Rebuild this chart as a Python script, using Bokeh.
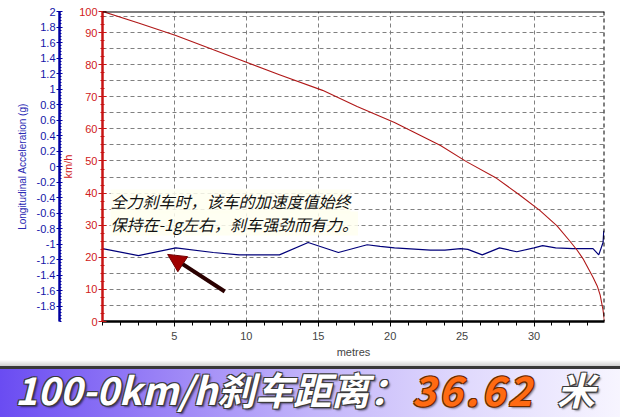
from bokeh.plotting import figure
from bokeh.models import (Range1d, LinearAxis, FixedTicker, CustomJSTickFormatter,
                          Label, Arrow, NormalHead, Div, Span)
from bokeh.layouts import column
from bokeh.embed import file_html
from bokeh.resources import INLINE

# ---------------- data ----------------
dist_speed = [0, 2.5, 5.1, 9.5, 12.3, 15.3, 17.7, 20.3, 23.5, 25.3, 27.4, 29.0, 30.4,
              31.6, 32.5, 33.0, 33.4, 34.1, 34.4, 34.6, 34.8, 34.9]
speed_kmh = [96.6, 93.0, 89.1, 81.6, 76.9, 72.0, 67.0, 62.0, 54.8, 49.8, 44.6, 39.4, 34.6,
             29.8, 25.0, 22.2, 19.6, 13.8, 11.0, 8.2, 3.5, 0.0]

dist_acc = [0, 2.5, 5.1, 7.7, 9.5, 12.3, 14.3, 16.4, 18.4, 19.3, 20.3, 22.8, 23.8, 24.9, 25.4,
            26.4, 27.6, 28.8, 30.0, 30.6, 31.5, 32.7, 34.1, 34.5, 34.8, 34.85]
acc_g = [-1.06, -1.15, -1.05, -1.11, -1.14, -1.14, -0.98, -1.11, -1.01, -1.03, -1.05, -1.08, -1.08,
         -1.06, -1.07, -1.14, -1.05, -1.10, -1.05, -1.02, -1.05, -1.06, -1.06, -1.14, -0.98, -0.83]

x_ticks = [5, 10, 15, 20, 25, 30]
speed_top = 96.57
speed_tick_pos = [0, 10, 20, 30, 40, 50, 60, 70, 80, 90, speed_top]
speed_tick_labels = ["0", "10", "20", "30", "40", "50", "60", "70", "80", "90", "100"]
acc_ticks = [-1.8, -1.6, -1.4, -1.2, -1.0, -0.8, -0.6, -0.4, -0.2, 0.0,
             0.2, 0.4, 0.6, 0.8, 1.0, 1.2, 1.4, 1.6, 1.8, 2.0]

note_line1 = "全力刹车时，该车的加速度值始终"
note_line2 = "保持在-1g左右，刹车强劲而有力。"
banner_a = "100-0km/h刹车距离："
banner_b = "36.62"
banner_c = "米"

FONT = "Liberation Sans"
CJK = "Noto Sans CJK SC"
RED = "#c81414"
BLUE = "#1414a8"

# ---------------- main chart ----------------
p = figure(width=620, height=360, x_range=Range1d(0, 34.9), y_range=Range1d(0, speed_top),
           output_backend="svg", toolbar_location=None,
           min_border_left=102, min_border_right=16, min_border_top=11, min_border_bottom=39,
           outline_line_color=None, background_fill_color="white",
           border_fill_color="white")
p.extra_y_ranges = {"acc": Range1d(-2, 2)}

# grid
p.xgrid.ticker = FixedTicker(ticks=x_ticks)
p.ygrid.ticker = FixedTicker(ticks=[5 * k for k in range(1, 20)])
for g in (p.xgrid[0], p.ygrid[0]):
    g.grid_line_color = "#808080"
    g.grid_line_dash = "4 3"
    g.grid_line_width = 1

# frame edges: solid top, dashed right
p.add_layout(Span(location=speed_top, dimension="width", line_color="black", line_width=2))
p.add_layout(Span(location=34.9, dimension="height", line_color="black", line_width=2,
                  line_dash="4 3"))

# x axis
xa = p.xaxis[0]
xa.ticker = FixedTicker(ticks=x_ticks, minor_ticks=[1.25 * k for k in range(28)])
xa.axis_label = "metres"
xa.axis_line_color = "black"
xa.axis_line_width = 2.5
xa.major_tick_line_color = "black"
xa.minor_tick_line_color = "black"
xa.major_tick_in = 0
xa.major_tick_out = 5
xa.minor_tick_in = 0
xa.minor_tick_out = 4
xa.major_label_standoff = 5
xa.axis_label_standoff = 3
xa.major_label_text_font = FONT
xa.major_label_text_font_size = "11px"
xa.axis_label_text_font = FONT
xa.axis_label_text_font_size = "11px"
xa.axis_label_text_font_style = "normal"

# red speed axis (inner left)
ra = p.yaxis[0]
ra.ticker = FixedTicker(ticks=speed_tick_pos, minor_ticks=[2.5 * k for k in range(39)])
ra.major_label_overrides = dict(zip(speed_tick_pos, speed_tick_labels))
ra.axis_label = "km/h"
ra.axis_line_color = RED
ra.axis_line_width = 2.5
ra.major_tick_line_color = RED
ra.minor_tick_line_color = RED
ra.major_tick_in = 4
ra.major_tick_out = 4
ra.minor_tick_in = 2
ra.minor_tick_out = 2
ra.major_label_standoff = 1
ra.axis_label_standoff = 2
ra.major_label_text_color = "#d02020"
ra.major_label_text_font = FONT
ra.major_label_text_font_size = "11px"
ra.axis_label_text_color = "#d02020"
ra.axis_label_text_font = FONT
ra.axis_label_text_font_size = "11px"
ra.axis_label_text_font_style = "normal"

# blue acceleration axis (outer left)
ba = LinearAxis(y_range_name="acc", axis_label="Longitudinal Acceleration (g)")
ba.ticker = FixedTicker(ticks=acc_ticks, minor_ticks=[-2 + 0.04 * k for k in range(101)])
ba.formatter = CustomJSTickFormatter(code="return (Math.round(tick*10)/10).toString();")
ba.axis_line_color = "#0000a0"
ba.axis_line_width = 2.5
ba.major_tick_line_color = "#0000a0"
ba.minor_tick_line_color = "#0000a0"
ba.major_tick_in = 3
ba.major_tick_out = 3
ba.minor_tick_in = 2
ba.minor_tick_out = 0
ba.major_label_standoff = 1
ba.axis_label_standoff = 6
ba.major_label_text_color = BLUE
ba.major_label_text_font = FONT
ba.major_label_text_font_size = "11px"
ba.axis_label_text_color = "#2a2ab4"
ba.axis_label_text_font = FONT
ba.axis_label_text_font_size = "10px"
ba.axis_label_text_font_style = "normal"
p.add_layout(ba, "left")

# series
p.line(dist_acc, acc_g, y_range_name="acc", line_color="#00007a", line_width=1.2)
p.line(dist_speed, speed_kmh, line_color="#b01818", line_width=1.1, line_join="round")

# annotation text with pale glow
for txt, yy in ((note_line1, 37.4), (note_line2, 30.5)):
    p.add_layout(Label(x=0.56, y=yy, text=txt, text_font=CJK, text_font_style="italic",
                       text_font_size="16px", text_color="#111111", text_baseline="middle",
                       text_align="left", background_fill_color="#fffff0",
                       background_fill_alpha=0.85))

# arrow
p.add_layout(Arrow(end=NormalHead(size=18, fill_color="#a00000", line_color="#700000"),
                   x_start=8.5, y_start=9.35, x_end=4.53, y_end=20.9,
                   line_width=4, line_color="#2a0000"))

# ---------------- banner ----------------
white_txt = ("color:#ffffff;text-shadow:-1px -1px 0 #3a3a3a,1px -1px 0 #3a3a3a,"
             "-1px 1px 0 #3a3a3a,1px 1px 0 #3a3a3a,2px 2px 2px rgba(0,0,0,0.55);")
orange_txt = ("color:#ff6a12;text-shadow:-1px -1px 0 #6a2a00,1px -1px 0 #6a2a00,"
              "-1px 1px 0 #6a2a00,1px 1px 0 #6a2a00,2px 2px 2px rgba(0,0,0,0.45);")
base_txt = ("position:absolute;display:inline-block;top:3px;height:52px;line-height:52px;"
            "white-space:nowrap;padding-right:8px;overflow:visible;"
            "font-family:'Noto Sans CJK SC';font-weight:700;font-style:italic;")
banner_html = (
    '<div style="position:relative;width:620px;height:57px;overflow:hidden;background:#ffffff;">'
    '<div style="position:absolute;left:0;top:0;width:620px;height:6px;'
    'background:linear-gradient(to bottom,#ffffff,#cfcfcf);"></div>'
    '<div style="position:absolute;left:0;top:6px;width:620px;height:3px;background:#383838;"></div>'
    '<div style="position:absolute;left:0;top:9px;width:620px;height:48px;'
    'background:linear-gradient(to right,#6a4cf2 0%,#9880f6 25%,#c2b4fa 50%,#e0d9fd 75%,#f7f5ff 100%);"></div>'
    f'<div style="{base_txt}left:15px;font-size:38px;{white_txt}">{banner_a}</div>'
    f'<div style="{base_txt}left:412px;font-size:40px;letter-spacing:3px;{orange_txt}">{banner_b}</div>'
    f'<div style="{base_txt}left:557px;font-size:38px;{white_txt}">{banner_c}</div>'
    '</div>'
)
banner = Div(text=banner_html, width=620, height=57, margin=(0, 0, 0, 0))

layout = column(p, banner, spacing=0)
open("out.html", "w").write(file_html(layout, INLINE))
